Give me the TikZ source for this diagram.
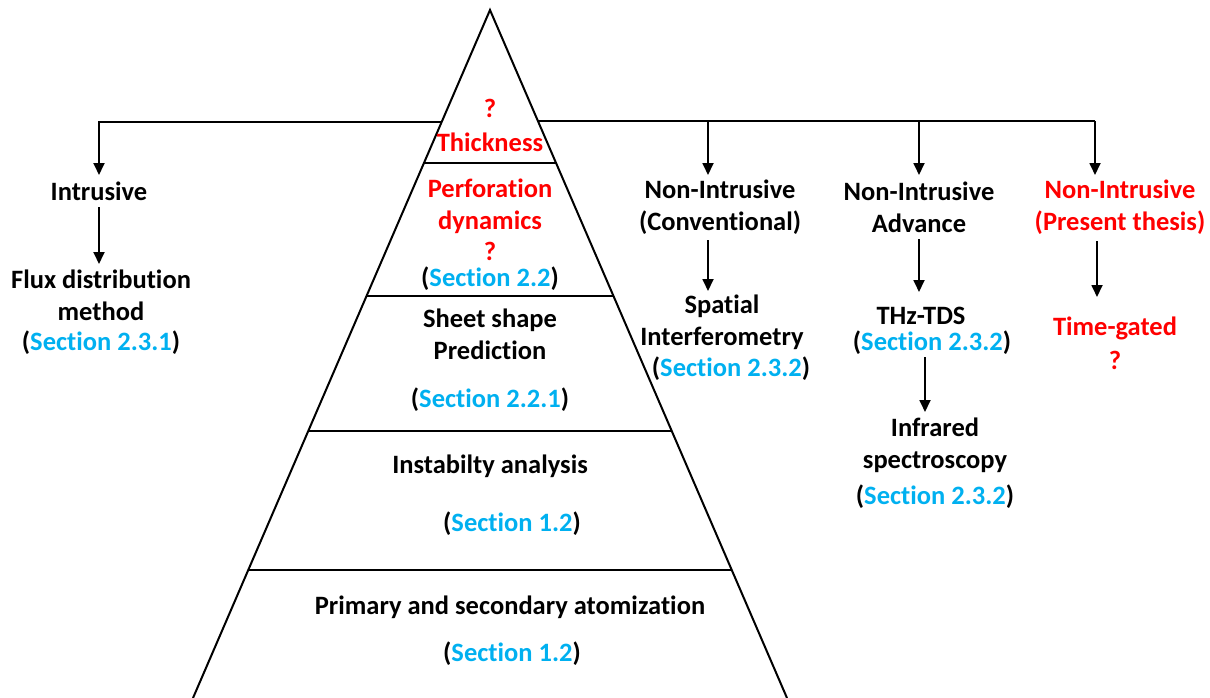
\documentclass[tikz,border=0pt]{standalone}
\usepackage{fontspec}
\setmainfont{Carlito}[Ligatures={NoCommon}]
\usetikzlibrary{arrows.meta}
\definecolor{myred}{RGB}{255,0,0}
\definecolor{myblue}{RGB}{0,176,240}
\newcommand\secref[1]{(\textcolor{myblue}{Section #1})}
\begin{document}
\begin{tikzpicture}[x=1pt,y=-1pt,
  txt/.style={font=\fontsize{26.5}{32}\selectfont\bfseries, align=center, inner sep=0pt},
  redtxt/.style={txt, text=myred},
  ln/.style={line width=2pt},
  arr/.style={line width=1.8pt, -{Triangle[width=11pt,length=12pt]}}]
\useasboundingbox (0,0) rectangle (1210,698);
% pyramid
\coordinate (apex) at (490,10);
\coordinate (bl) at (193,698);
\coordinate (br) at (787,698);
\draw[ln, line join=miter] (bl) -- (apex) -- (br);
\draw[ln] (424,163) -- (556,163);
\draw[ln] (366.5,296) -- (613.5,296);
\draw[ln] (308.3,431) -- (671.7,431);
\draw[ln] (248.2,570) -- (731.8,570);
% pyramid texts
\node[redtxt] (q1) at (490,108) {?};
\node[redtxt] (thick) at (490,142) {Thickness};
\node[redtxt] (perf) at (490,206) {Perforation\\dynamics};
\node[redtxt] (q3) at (490,251) {?};
\node[txt] (s22) at (490,279) {\secref{2.2}};
\node[txt] (sheet) at (490,334.5) {Sheet shape\\Prediction};
\node[txt] (s221) at (490,400) {\secref{2.2.1}};
\node[txt] (inst) at (490,466) {Instabilty analysis};
\node[txt] (s12a) at (512,524) {\secref{1.2}};
\node[txt] (prim) at (510,607) {Primary and secondary atomization};
\node[txt] (s12b) at (512,654) {\secref{1.2}};
% left branch
\node[txt] (intr) at (99,191) {Intrusive};
\node[txt] (flux) at (101,295) {Flux distribution\\method};
\node[txt] (s231) at (101,343) {\secref{2.3.1}};
% right branches
\node[txt] (nic) at (720,207.5) {Non-Intrusive\\(Conventional)};
\node[txt] (spat) at (722,322.5) {Spatial\\Interferometry};
\node[txt] (s232a) at (731,369) {\secref{2.3.2}};
\node[txt] (nia) at (919,207.5) {Non-Intrusive\\Advance};
\node[txt] (thz) at (921,316) {THz-TDS};
\node[txt] (s232b) at (932,343) {\secref{2.3.2}};
\node[txt] (infra) at (935,445.5) {Infrared\\spectroscopy};
\node[txt] (s232c) at (935,497) {\secref{2.3.2}};
\node[redtxt] (nip) at (1120,207.5) {Non-Intrusive\\(Present thesis)};
\node[redtxt] (tg) at (1115,328) {Time-gated};
\node[redtxt] (q2) at (1115,360) {?};
% tree connectors
\coordinate (lj) at (441.7,122);
\coordinate (rj) at (538.3,121);
\coordinate (j1) at (708,121);
\coordinate (j2) at (919,121);
\coordinate (j3) at (1095,121);
\coordinate (t0) at (99,175);
\coordinate (t1) at (708,175);
\coordinate (t2) at (919,175);
\coordinate (t3) at (1095,175);
\draw[arr] (lj) -| (t0);
\draw[ln] (rj) -- (j3);
\draw[arr] (j1) -- (t1);
\draw[arr] (j2) -- (t2);
\draw[arr] (j3) -- (t3);
% lower arrows
\coordinate (a0s) at (99,207);  \coordinate (a0e) at (99,264);
\coordinate (a1s) at (708,240); \coordinate (a1e) at (708,291);
\coordinate (a2s) at (919,239); \coordinate (a2e) at (919,292);
\coordinate (a3s) at (925,357); \coordinate (a3e) at (925,412);
\coordinate (a4s) at (1097,241); \coordinate (a4e) at (1097,297);
\draw[arr] (a0s) -- (a0e);
\draw[arr] (a1s) -- (a1e);
\draw[arr] (a2s) -- (a2e);
\draw[arr] (a3s) -- (a3e);
\draw[arr] (a4s) -- (a4e);
\end{tikzpicture}
\end{document}
